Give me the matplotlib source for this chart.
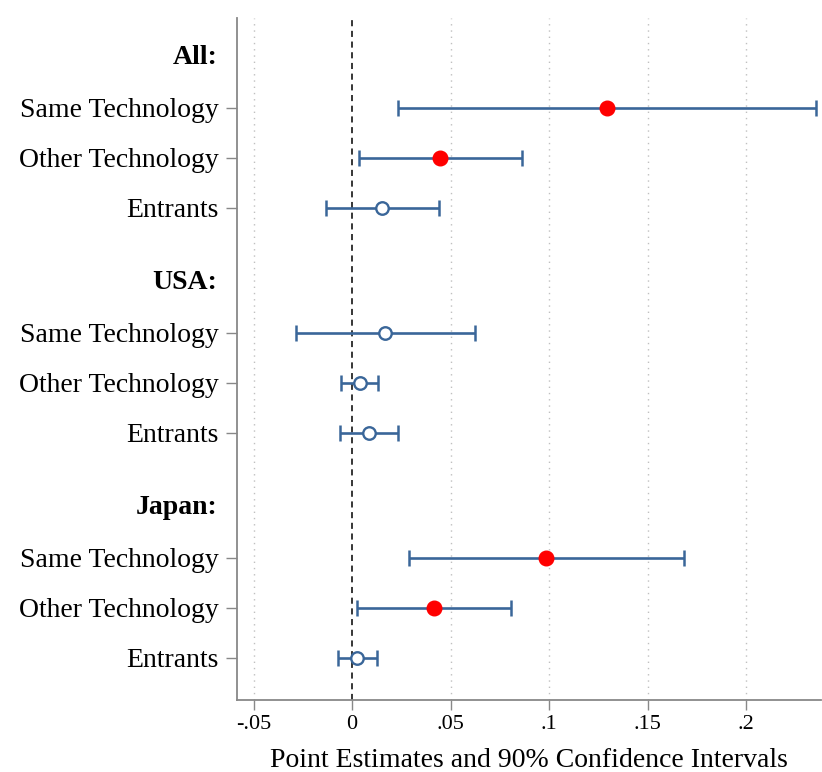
import numpy as np
import matplotlib
matplotlib.use("Agg")
import matplotlib.pyplot as plt

plt.rcParams['font.family'] = ['Liberation Serif', 'DejaVu Serif']

# group headers and row labels
groups = ["All:", "USA:", "Japan:"]
row_labels = ["Same Technology", "Other Technology", "Entrants"]

# point estimates and 90% CI bounds, per group (Same, Other, Entrants)
est = [[0.1294, 0.0447, 0.0153],
       [0.0166, 0.0039, 0.0086],
       [0.0985, 0.0415, 0.0025]]
lo = [[0.0235, 0.0036, -0.0130],
      [-0.0287, -0.0057, -0.0062],
      [0.0287, 0.0027, -0.0071]]
hi = [[0.2355, 0.0863, 0.0439],
      [0.0622, 0.0134, 0.0235],
      [0.1686, 0.0805, 0.0127]]
# significant at 10% -> filled red marker
signif = [[True, True, False],
          [False, False, False],
          [True, True, False]]

xticks = [-0.05, 0, 0.05, 0.1, 0.15, 0.2]
xticklabels = ["-.05", "0", ".05", ".1", ".15", ".2"]

bar_col = "#3a6699"

fig = plt.figure(figsize=(8.22, 7.72), dpi=100)
ax = fig.add_axes([0.2883, 0.0933, 0.7105, 0.8834])

# header at 0, rows at 1..3, next header 1.5 rows later
head_pos = [0, 4.5, 9]
ytick_pos, ytick_lab = [], []
for g in range(3):
    h = head_pos[g]
    ax.text(-0.034, h, groups[g], ha="right", va="center",
            fontsize=20, fontweight="bold", transform=ax.get_yaxis_transform())
    for r in range(3):
        y = h + r + 1
        ytick_pos.append(y)
        ytick_lab.append(row_labels[r])
        e = est[g][r]
        ax.errorbar(e, y, xerr=[[e - lo[g][r]], [hi[g][r] - e]], fmt="none",
                    ecolor=bar_col, elinewidth=1.9, capsize=6, capthick=1.8, zorder=3)
        if signif[g][r]:
            ax.plot(e, y, "o", ms=10.5, mfc="red", mec="red", zorder=4)
        else:
            ax.plot(e, y, "o", ms=9, mfc="white", mec=bar_col, mew=1.7, zorder=4)

ax.axvline(0, color="black", ls=(0, (4, 3)), lw=1.1, zorder=2)
for xt in xticks:
    if xt != 0:
        ax.axvline(xt, color="#c0c0c0", ls=(0, (1, 3.5)), lw=1.0, zorder=1)

ax.set_xlim(-0.0584, 0.238)
ax.set_ylim(12.84, -0.8)
ax.set_yticks(ytick_pos)
ax.set_yticklabels(ytick_lab, fontsize=20)
ax.set_xticks(xticks)
ax.set_xticklabels(xticklabels, fontsize=16)
ax.tick_params(axis="y", length=8, width=1, color="#888888", pad=5)
ax.tick_params(axis="x", length=7, width=1, color="#888888", pad=4)

for s in ["top", "right"]:
    ax.spines[s].set_visible(False)
for s in ["left", "bottom"]:
    ax.spines[s].set_color("#888888")
    ax.spines[s].set_linewidth(1.3)

ax.set_xlabel("Point Estimates and 90% Confidence Intervals", fontsize=20, labelpad=10)

fig.savefig("out.png", dpi=100)
